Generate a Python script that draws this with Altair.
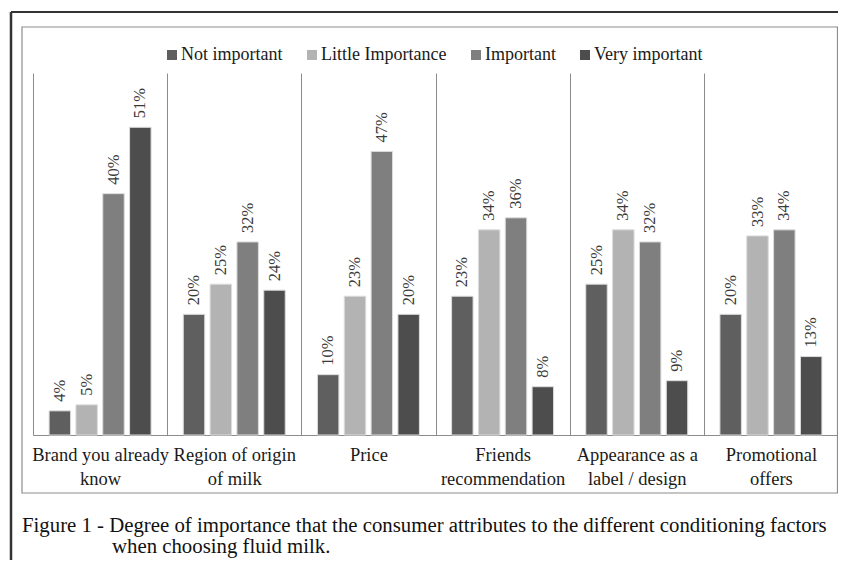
import altair as alt
import pandas as pd

categories = ["Brand you already\nknow", "Region of origin\nof milk", "Price",
              "Friends\nrecommendation", "Appearance as a\nlabel / design", "Promotional\noffers"]
levels = ["Not important", "Little Importance", "Important", "Very important"]
not_important = [4, 20, 10, 23, 25, 20]
little_importance = [5, 25, 23, 34, 34, 33]
important = [40, 32, 47, 36, 32, 34]
very_important = [51, 24, 20, 8, 9, 13]
colors = ["#5f5f5f", "#b3b3b3", "#7f7f7f", "#4d4d4d"]
caption = ["Figure 1 - Degree of importance that the consumer attributes to the different conditioning factors",
           "when choosing fluid milk."]

series = [not_important, little_importance, important, very_important]
rows = []
for lvl, vals in zip(levels, series):
    for cat, v in zip(categories, vals):
        rows.append({"factor": cat, "level": lvl, "value": v, "label": f"{v}%"})
df = pd.DataFrame(rows)

FONT = "Liberation Serif, Times New Roman, serif"

x = alt.X("factor:N", sort=categories,
          scale=alt.Scale(paddingInner=0, paddingOuter=0),
          axis=alt.Axis(title=None, labelAngle=0, grid=True, tickBand="extent", ticks=False,
                        domainColor="#8c8c8c", gridColor="#8c8c8c", gridWidth=1,
                        labelExpr="split(datum.label, '\\n')", labelFont=FONT, labelFontSize=18.5,
                        labelColor="#1a1a1a", labelPadding=10, labelBaseline="top",
                        labelLineHeight=24, labelLimit=200))
xo = alt.XOffset("level:N", sort=levels, scale=alt.Scale(paddingInner=0.2, paddingOuter=0.6))
y = alt.Y("value:Q", scale=alt.Scale(domain=[0, 60]), axis=None)

base = alt.Chart(df)
bars = base.mark_bar(stroke="#dcdcdc", strokeWidth=1).encode(
    x=x, xOffset=xo, y=y,
    color=alt.Color("level:N", sort=levels, scale=alt.Scale(domain=levels, range=colors),
                    legend=alt.Legend(title=None, orient="none", legendX=130, legendY=-27,
                                      direction="horizontal", columns=4, symbolType="square",
                                      symbolSize=100, symbolStrokeWidth=0, labelFont=FONT,
                                      labelFontSize=18, labelColor="#1a1a1a", columnPadding=20,
                                      labelOffset=0, padding=0)),
)
texts = base.mark_text(angle=270, align="left", baseline="middle", dx=9,
                       font=FONT, fontSize=16.5, color="#3a3a3a").encode(
    x=x, xOffset=xo, y=y, text="label:N")

one = alt.Chart(pd.DataFrame({"a": [0]}))
inner = one.mark_rect(fillOpacity=0, stroke="#8c8c8c", strokeWidth=1.2).encode(
    x=alt.value(-11), x2=alt.value(804.5), y=alt.value(-46), y2=alt.value(420))
outer_left = one.mark_rule(color="#333333", strokeWidth=2.5).encode(
    x=alt.value(-22), y=alt.value(-61), y2=alt.value(500))
outer_top = one.mark_rule(color="#333333", strokeWidth=2).encode(
    x=alt.value(-22), x2=alt.value(820), y=alt.value(-61))
cap1 = one.mark_text(align="left", baseline="alphabetic", font=FONT, fontSize=20.8, color="#111111").encode(
    x=alt.value(-11), y=alt.value(458.5), text=alt.value(caption[0]))
cap2 = one.mark_text(align="left", baseline="alphabetic", font=FONT, fontSize=20.8, color="#111111").encode(
    x=alt.value(79), y=alt.value(480), text=alt.value(caption[1]))

chart = alt.layer(bars, texts, inner, outer_left, outer_top, cap1, cap2).properties(
    width=805, height=362,
    autosize=alt.AutoSizeParams(type="none"),
    padding={"left": 25, "top": 65, "right": 0, "bottom": 125},
    background="white",
).configure(font=FONT).configure_view(strokeWidth=0)

chart.save("out.html", embed_options={"renderer": "svg", "actions": False})
